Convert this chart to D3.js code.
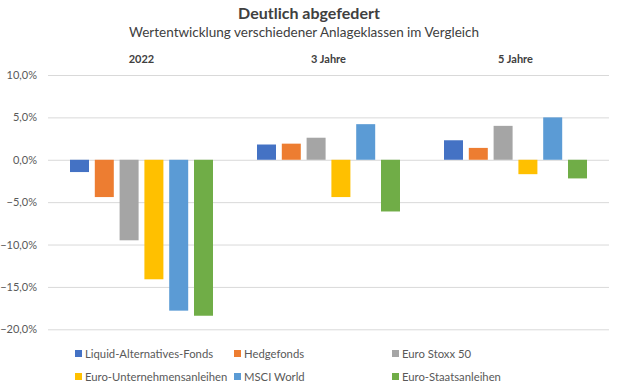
<!DOCTYPE html>
<html><head><meta charset="utf-8">
<script src="https://cdn.jsdelivr.net/npm/d3@7"></script>
<style>
html,body{margin:0;padding:0;background:#fff;}
svg{display:block;font-family:Lato,"Open Sans",sans-serif;}
</style></head>
<body>
<svg id="chart" width="619" height="392"></svg>
<script>
const title = "Deutlich abgefedert";
const subtitle = "Wertentwicklung verschiedener Anlageklassen im Vergleich";
const categories = ["2022", "3 Jahre", "5 Jahre"];
const seriesNames = ["Liquid-Alternatives-Fonds", "Hedgefonds", "Euro Stoxx 50",
  "Euro-Unternehmensanleihen", "MSCI World", "Euro-Staatsanleihen"];
const seriesColors = ["#4472C4", "#ED7D31", "#A5A5A5", "#FFC000", "#5B9BD5", "#70AD47"];
const liquidAlt = [-1.45, 1.8, 2.3];
const hedgefonds = [-4.4, 1.9, 1.4];
const euroStoxx = [-9.5, 2.6, 4.0];
const euroUnternehmen = [-14.1, -4.4, -1.7];
const msciWorld = [-17.8, 4.2, 5.0];
const euroStaat = [-18.4, -6.1, -2.2];
const yTicks = [10, 5, 0, -5, -10, -15, -20];

const seriesValues = [liquidAlt, hedgefonds, euroStoxx, euroUnternehmen, msciWorld, euroStaat];

const svg = d3.select("#chart");
const pLeft = 48, pRight = 609, pTop = 75, pBottom = 329.3;

const loc = d3.formatLocale({decimal: ",", thousands: ".", grouping: [3], currency: ["", "€"]});
const fmt = v => loc.format(".1f")(v) + "%";

const y = d3.scaleLinear().domain([-20, 10]).range([pBottom, pTop]);
const x0 = d3.scaleBand().domain(categories).range([pLeft, pRight]).paddingInner(0).paddingOuter(0);
const x1 = d3.scaleBand().domain(d3.range(seriesNames.length)).range([0, x0.bandwidth()])
  .paddingInner(0.234).paddingOuter(0.887);

// title
svg.append("text").attr("x", 309).attr("y", 19).attr("text-anchor", "middle")
  .attr("font-size", 16).attr("font-weight", "bold").attr("fill", "#404040").text(title);
svg.append("text").attr("x", 304).attr("y", 37).attr("text-anchor", "middle")
  .attr("font-size", 13.5).attr("fill", "#404040").text(subtitle);

// grid
const yAxis = d3.axisLeft(y).tickValues(yTicks).tickSize(-(pRight - pLeft)).tickFormat(fmt).tickPadding(11);
const ga = svg.append("g").attr("transform", `translate(${pLeft},0)`).call(yAxis);
ga.select(".domain").remove();
ga.selectAll(".tick line").attr("stroke", "#D9D9D9").attr("stroke-width", 1);
ga.selectAll(".tick text").attr("font-size", 11).attr("fill", "#595959")
  .attr("font-family", "Lato,'Open Sans',sans-serif");

// category labels on top
svg.append("g").selectAll("text").data(categories).join("text")
  .attr("x", d => x0(d) + x0.bandwidth() / 2).attr("y", 63)
  .attr("text-anchor", "middle").attr("font-size", 11).attr("font-weight", "bold")
  .attr("fill", "#404040").text(d => d);

// bars
const groups = svg.append("g").selectAll("g").data(categories).join("g")
  .attr("transform", d => `translate(${x0(d)},0)`);
groups.selectAll("rect").data((c, ci) => seriesValues.map((s, si) => ({si, v: s[ci]}))).join("rect")
  .attr("x", d => x1(d.si)).attr("width", x1.bandwidth())
  .attr("y", d => y(Math.max(0, d.v))).attr("height", d => Math.abs(y(d.v) - y(0)))
  .attr("fill", d => seriesColors[d.si]);

// legend
const legX = [75, 234, 392];
const legY = [354, 377];
const leg = svg.append("g").selectAll("g").data(seriesNames).join("g")
  .attr("transform", (d, i) => `translate(${legX[i % 3]},${legY[Math.floor(i / 3)]})`);
leg.append("rect").attr("x", 0).attr("y", -4).attr("width", 7).attr("height", 7)
  .attr("fill", (d, i) => seriesColors[i]);
leg.append("text").attr("x", 10).attr("y", 0).attr("dy", "0.35em")
  .attr("font-size", 11.3).attr("fill", "#595959").text(d => d);
</script>
</body></html>
